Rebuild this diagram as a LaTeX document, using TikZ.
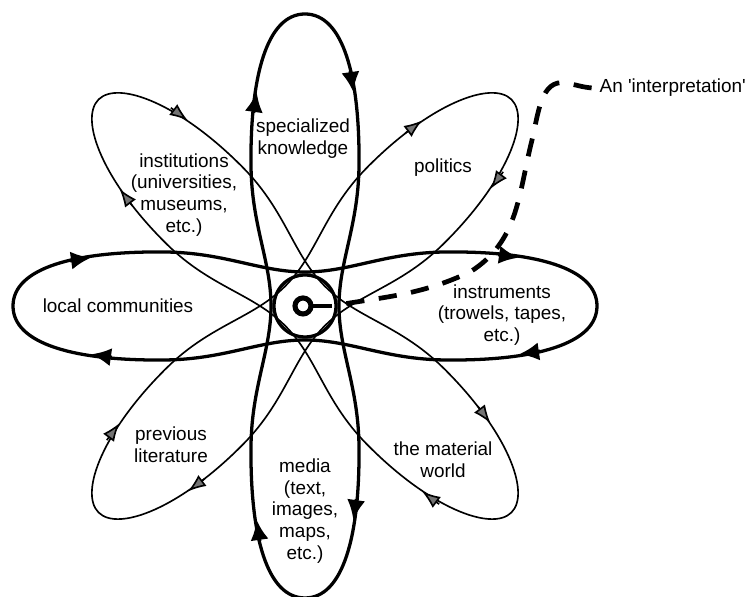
\documentclass[tikz,border=0pt]{standalone}
\usepackage{fontspec}
\setmainfont{Liberation Sans}
\usetikzlibrary{arrows.meta}

\tikzset{
	bigtip/.style = {-{Latex[length=11pt,width=10pt]}},
	smalltip/.style = {-{Latex[length=10pt,width=7.5pt,fill=black!55]}},
	thickorbit/.style = {black, line width = 1.8pt},
	thinorbit/.style = {black, line width = 0.9pt},
	lbl/.style = {align = center, inner sep = 1pt, font = \fontsize{10.4}{12}\selectfont},
	interpline/.style = {black, line width = 2.6pt, dash pattern = on 10pt off 8pt, dash phase = 10pt}
}

% #1 angle, #2 style, #3 tip handle, #4 half width at the centre, #5 arrow style
\newcommand{\orbit}[5]{%
	\begin{scope}[shift = {(ctr)}, rotate = #1]
		\draw [#2]
			(292, 0) .. controls (292, -#3) and (230, -55) .. (140, -54)
			.. controls (80, -53.3) and (45, -#4) .. (0, -#4)
			.. controls (-45, -#4) and (-80, -53.3) .. (-140, -54)
			.. controls (-230, -55) and (-292, -#3) .. (-292, 0)
			.. controls (-292, #3) and (-230, 55) .. (-140, 54)
			.. controls (-80, 53.3) and (-45, #4) .. (0, #4)
			.. controls (45, #4) and (80, 53.3) .. (140, 54)
			.. controls (230, 55) and (292, #3) .. cycle;
		\draw [#2, #5] (235, -45.3) -- (214, -48.3);
		\draw [#2, #5] (-193, -51.3) -- (-214, -48.3);
		\draw [#2, #5] (-235, 45.3) -- (-214, 48.3);
		\draw [#2, #5] (193, 51.3) -- (214, 48.3);
	\end{scope}}

\begin{document}
\begin{tikzpicture}[x = 0.0193cm, y = 0.0193cm]
	\useasboundingbox (0, 0) rectangle (747, 597);
	\coordinate (ctr) at (305, 291);

	\orbit{45}{thinorbit}{28}{28}{smalltip}
	\orbit{135}{thinorbit}{28}{28}{smalltip}
	\orbit{0}{thickorbit}{38}{34}{bigtip}
	\orbit{90}{thickorbit}{38}{34}{bigtip}

	\draw [black, line width = 1.8pt] (ctr) circle [radius = 31];
	\draw [black, line width = 2.8pt] (303, 291) circle [radius = 8];
	\draw [black, line width = 2.4pt] (311, 291) -- (332, 291) coordinate (stemend);

	\node [lbl] (knowledge) at (303, 458) {specialized\\knowledge};
	\node [lbl] (institutions) at (184, 402) {institutions\\(universities,\\museums,\\etc.)};
	\node [lbl] (politics) at (443, 429) {politics};
	\node [lbl] (communities) at (118, 291) {local communities};
	\node [lbl] (instruments) at (502, 282) {instruments\\(trowels, tapes,\\etc.)};
	\node [lbl] (literature) at (171, 152) {previous\\literature};
	\node [lbl] (world) at (443, 137) {the material\\world};
	\node [lbl] (media) at (305, 86) {media\\(text,\\images,\\maps,\\etc.)};
	\node [lbl, anchor = west, inner sep = 4pt] (interp) at (592, 509) {An \textquotesingle interpretation\textquotesingle};

	\draw [interpline] (stemend) to [out = 10, in = 205] (470, 325) to [out = 32, in = 256] (532, 457)
		to [out = 76, in = 170] (566, 514) to [out = -10, in = 175] (interp.west);
\end{tikzpicture}
\end{document}
